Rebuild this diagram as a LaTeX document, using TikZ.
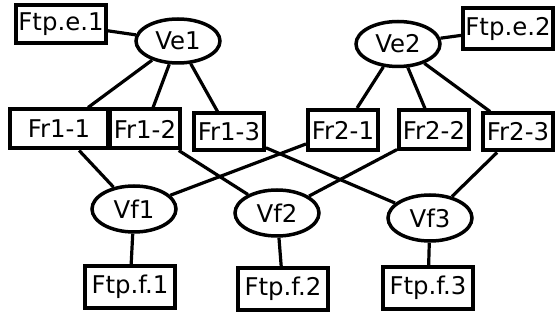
\documentclass[tikz,border=0pt]{standalone}
\usepackage{fontspec}
\setmainfont{DejaVu Sans}
\usepackage{tikz}
\usetikzlibrary{
	calc,
	positioning,
	shapes,
}
\tikzset{default node/.style={
	draw,
	inner sep=0mm,
	font=\fontsize{12.2}{14}\selectfont,
	black,
}}

\begin{document}
\begin{tikzpicture}[
x=0.5pt, y=-0.5pt,
line width=1.6pt,
]
\useasboundingbox (0,0) rectangle (558,320);

\tikzset{
	fr/.style={default node, rectangle, line width=2pt, minimum width=35pt, minimum height=19.5pt},
	ftp/.style={default node, rectangle, line width=2pt, minimum width=45pt, minimum height=21pt},
	v/.style={default node, ellipse, line width=1.75pt, minimum width=42pt, minimum height=23pt},
}

\begin{scope}[every node/.style={ftp}]
\node(fe1)[minimum height=19pt]			at(61,24)	{Ftp.e.1};
\node(fe2)[minimum height=20.5pt]		at(508,29)	{Ftp.e.2};
\node(ff1)								at(130,287)	{Ftp.f.1};
\node(ff2)								at(283,289)	{Ftp.f.2};
\node(ff3)								at(428,288)	{Ftp.f.3};
\end{scope}

\begin{scope}[every node/.style={v}]
\node(ve1)[minimum height=22pt]			at(178,41)	{Ve1};
\node(ve2)[minimum height=22.5pt]		at(398,44)	{Ve2};
\node(vf1)								at(134,209)	{Vf1};
\node(vf2)								at(277,213)	{Vf2};
\node(vf3)								at(430,218)	{Vf3};
\end{scope}

\begin{scope}[every node/.style={fr}]
\node(fr11)[minimum width=49pt]			at(59,129)	{Fr1-1};
\node(fr12)								at(145,129)	{Fr1-2};
\node(fr13)[minimum height=18.5pt]		at(229,132)	{Fr1-3};
\node(fr21)[minimum height=20pt]		at(343,130)	{Fr2-1};
\node(fr22)								at(434,130)	{Fr2-2};
\node(fr23)[minimum height=18.5pt]		at(518,132)	{Fr2-3};
\end{scope}

\begin{scope}
\draw (fe1) to (ve1);
\draw (ve1) to (fr11);
\draw (ve1) to (fr12);
\draw (ve1) to (fr13);
\draw (fe2) to (ve2);
\draw (ve2) to (fr21);
\draw (ve2) to (fr22);
\draw (ve2) to (fr23);
\end{scope}

\begin{scope}
\draw (fr11) to (vf1);
\draw (fr21) to (vf1);
\draw (fr12) to (vf2);
\draw (fr22) to (vf2);
\draw (fr13) to (vf3);
\draw (fr23) to (vf3);
\draw (vf1) to (ff1);
\draw (vf2) to (ff2);
\draw (vf3) to (ff3);
\end{scope}

\end{tikzpicture}
\end{document}
